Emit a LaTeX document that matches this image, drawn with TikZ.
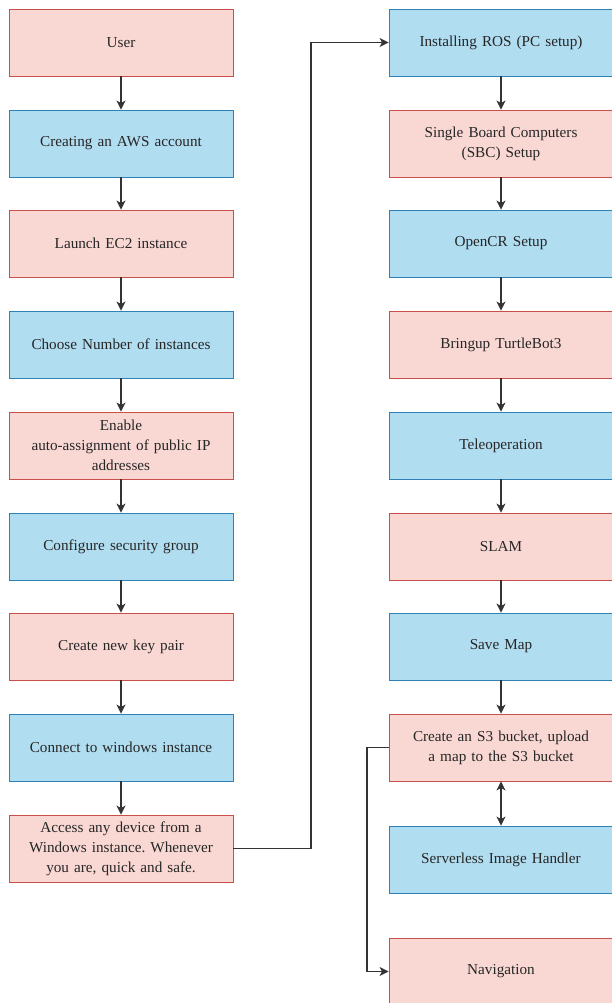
\documentclass[tikz,border=0pt]{standalone}
\usepackage{fontspec}
\setmainfont{Liberation Serif}
\frenchspacing
\usetikzlibrary{arrows.meta}
\definecolor{pinkfill}{HTML}{F9D8D4}
\definecolor{pinkdraw}{HTML}{C9504A}
\definecolor{bluefill}{HTML}{B1DDF1}
\definecolor{bluedraw}{HTML}{2F80B5}
\definecolor{linec}{HTML}{333333}
\tikzset{
  box/.style={rectangle, minimum width=224pt, minimum height=67pt, inner sep=0pt,
    text width=210pt, align=center, line width=0.9pt, text=black!85,
    font=\fontsize{15.2}{20}\selectfont},
  pinkbox/.style={box, fill=pinkfill, draw=pinkdraw},
  bluebox/.style={box, fill=bluefill, draw=bluedraw},
  tip/.style={Stealth[length=9pt,width=9pt,inset=2.5pt]},
  conn/.style={draw=linec, line width=1.1pt, -{Stealth[length=9pt,width=9pt,inset=2.5pt]}},
  conn2/.style={draw=linec, line width=1.1pt, {Stealth[length=9pt,width=9pt,inset=2.5pt]}-{Stealth[length=9pt,width=9pt,inset=2.5pt]}}
}
\begin{document}
\begin{tikzpicture}[x=1pt,y=1pt]
\useasboundingbox (0,0) rectangle (612,-1003);
% left column, centre x = 121
\node[pinkbox] (l1) at (121,-42.5) {User};
\node[bluebox] (l2) at (121,-143.5) {Creating an AWS account};
\node[pinkbox] (l3) at (121,-243.5) {Launch EC2 instance};
\node[bluebox] (l4) at (121,-344.5) {Choose Number of instances};
\node[pinkbox] (l5) at (121,-445.5) {Enable\\auto-assignment of public IP\\addresses};
\node[bluebox] (l6) at (121,-546.5) {Configure security group};
\node[pinkbox] (l7) at (121,-646.5) {Create new key pair};
\node[bluebox] (l8) at (121,-747.5) {Connect to windows instance};
\node[pinkbox] (l9) at (121,-848.5) {Access any device from a\\Windows instance. Whenever\\you are, quick and safe.};
% right column, centre x = 501
\node[bluebox] (r1) at (501,-42.5) {Installing ROS (PC setup)};
\node[pinkbox] (r2) at (501,-143.5) {Single Board Computers\\(SBC) Setup};
\node[bluebox] (r3) at (501,-243.5) {OpenCR Setup};
\node[pinkbox] (r4) at (501,-344.5) {Bringup TurtleBot3};
\node[bluebox] (r5) at (501,-445.5) {Teleoperation};
\node[pinkbox] (r6) at (501,-546.5) {SLAM};
\node[bluebox] (r7) at (501,-646.5) {Save Map};
\node[pinkbox] (r8) at (501,-747.5) {Create an S3 bucket, upload\\a map to the S3 bucket};
\node[bluebox] (r9) at (501,-859.5) {Serverless Image Handler};
\node[pinkbox] (r10) at (501,-971.5) {Navigation};
% connectors
\foreach \a/\b in {l1/l2,l2/l3,l3/l4,l4/l5,l5/l6,l6/l7,l7/l8,l8/l9,r1/r2,r2/r3,r3/r4,r4/r5,r5/r6,r6/r7,r7/r8}
  \draw[conn] (\a) -- (\b);
\draw[conn2] (r8) -- (r9);
\draw[conn] (l9.east) -- (311,-848.5) |- (r1.west);
\draw[conn] (r8.west) -- (367,-747.5) |- (r10.west);
\end{tikzpicture}
\end{document}
